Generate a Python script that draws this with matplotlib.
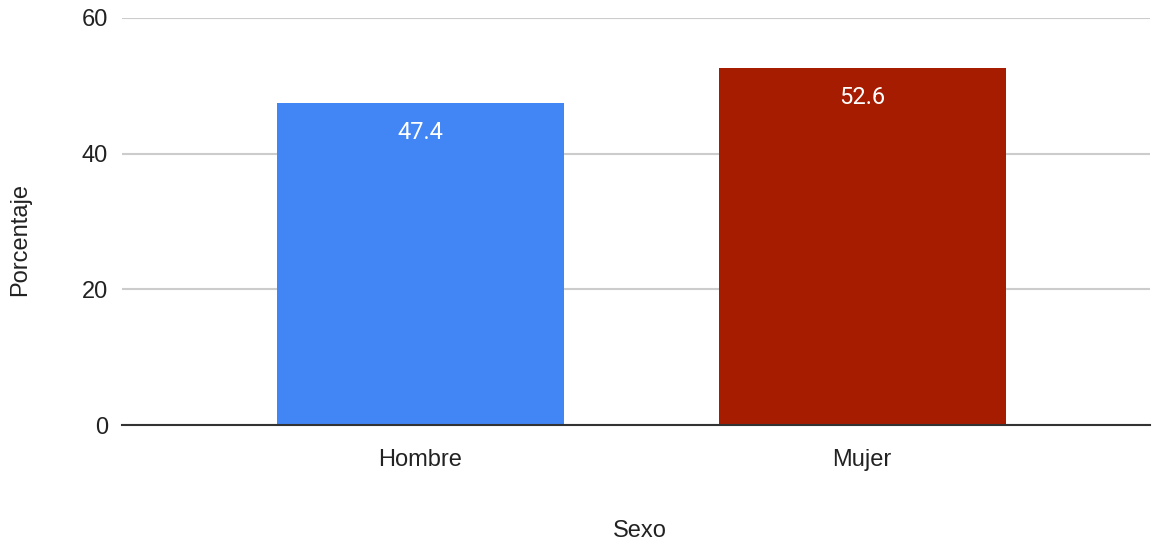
import matplotlib
matplotlib.use("Agg")
from matplotlib import pyplot as plt

categorias = ["Hombre", "Mujer"]
porcentajes = [47.4, 52.6]
colores = ["#4285F4", "#A61C00"]
yticks = [0, 20, 40, 60]

plt.rcParams["font.family"] = ["Liberation Sans", "DejaVu Sans"]

fig = plt.figure(figsize=(11.53, 5.44), dpi=100)
ax = fig.add_axes([122 / 1153, 119 / 544, 1028 / 1153, 407 / 544])

x = list(range(len(categorias)))
ax.bar(x, porcentajes, width=0.65, color=colores, zorder=3)

for xi, v in zip(x, porcentajes):
    ax.annotate(f"{v}", (xi, v), xytext=(0, -21), textcoords="offset points",
                ha="center", va="center", color="white", fontsize=17,
                family=["Roboto", "DejaVu Sans"], zorder=4)

ax.set_xlim(-0.676, 1.652)
ax.set_ylim(0, 60)
ax.set_yticks(yticks)
ax.set_xticks(x)
ax.set_xticklabels(categorias)
ax.tick_params(axis="both", length=0, labelsize=17, labelcolor="#222222")
ax.tick_params(axis="y", pad=10)
ax.tick_params(axis="x", pad=17)

ax.grid(axis="y", color="#cccccc", linewidth=1.5, zorder=0)
for s in ["top", "right", "left"]:
    ax.spines[s].set_visible(False)
ax.spines["bottom"].set_color("#333333")
ax.spines["bottom"].set_linewidth(1.5)
ax.spines["bottom"].set_zorder(5)

fig.text(640 / 1153, 1 - 531 / 544, "Sexo", ha="center", va="center",
         fontsize=17, color="#222222")
fig.text(20 / 1153, 1 - 240 / 544, "Porcentaje", ha="center", va="center",
         rotation=90, fontsize=17, color="#222222")

fig.savefig("out.png", dpi=100)
